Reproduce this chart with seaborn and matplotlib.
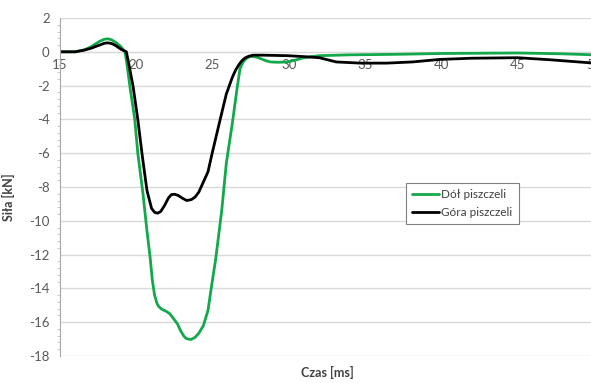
import matplotlib
matplotlib.use("Agg")
import matplotlib.pyplot as plt
from matplotlib.ticker import MultipleLocator
import pandas as pd
import seaborn as sns

# Dół piszczeli (lower tibia)
dol_t = [15, 16, 16.6, 17, 17.3, 17.6, 17.9, 18.15, 18.4, 18.7, 19.0, 19.26, 19.4,
         19.59, 19.9, 20.1, 20.44, 20.7, 20.9, 21.05, 21.2, 21.36, 21.5, 21.7, 21.95,
         22.2, 22.45, 22.7, 22.9, 23.1, 23.25, 23.4, 23.6, 23.85, 24.1, 24.4, 24.7,
         24.96, 25.2, 25.6, 25.9, 26.3, 26.6, 26.8, 27.0, 27.2, 27.4, 27.6, 27.9,
         28.2, 28.5, 28.8, 29.3, 29.9, 30.4, 30.9, 31.5, 32, 34, 37, 40, 45, 48, 50]
dol_f = [0, 0.0, 0.12, 0.28, 0.45, 0.62, 0.74, 0.77, 0.7, 0.53, 0.3, 0.0, -0.8,
         -2.1, -4.0, -6.0, -8.4, -10.6, -12.1, -13.5, -14.4, -14.9, -15.1, -15.25, -15.35,
         -15.5, -15.8, -16.1, -16.5, -16.8, -16.95, -17.0, -17.02, -16.9, -16.65, -16.2, -15.3,
         -13.7, -12.3, -9.4, -6.6, -4.2, -2.2, -1.0, -0.6, -0.4, -0.3, -0.27, -0.32,
         -0.42, -0.53, -0.6, -0.62, -0.6, -0.5, -0.37, -0.28, -0.23, -0.18, -0.15, -0.1, -0.07, -0.12, -0.18]

# Góra piszczeli (upper tibia)
gora_t = [15, 16, 16.6, 17, 17.3, 17.6, 17.9, 18.1, 18.35, 18.6, 19.0, 19.35, 19.55,
          19.8, 20.1, 20.4, 20.7, 21.0, 21.2, 21.4, 21.6, 21.85, 22.1, 22.3, 22.5,
          22.75, 23.0, 23.3, 23.6, 23.85, 24.1, 24.3, 24.5, 24.7, 25.0, 25.5, 25.9,
          26.3, 26.5, 26.7, 26.9, 27.1, 27.35, 27.65, 28.3, 29.9, 30.9, 32, 33.1,
          34.7, 36.4, 38.1, 39.9, 42, 45, 47.1, 50]
gora_f = [0, 0.0, 0.1, 0.2, 0.3, 0.4, 0.5, 0.53, 0.5, 0.4, 0.15, 0.0, -0.9,
          -2.1, -4.0, -6.2, -8.2, -9.26, -9.5, -9.55, -9.45, -9.1, -8.66, -8.45, -8.43,
          -8.5, -8.65, -8.8, -8.75, -8.6, -8.3, -7.9, -7.5, -7.1, -5.9, -4.0, -2.5,
          -1.5, -1.1, -0.8, -0.55, -0.38, -0.27, -0.2, -0.2, -0.23, -0.28, -0.35, -0.6,
          -0.67, -0.67, -0.6, -0.45, -0.38, -0.35, -0.47, -0.67]

df = pd.concat([
    pd.DataFrame({"Czas": dol_t, "Siła": dol_f, "seria": "Dół piszczeli"}),
    pd.DataFrame({"Czas": gora_t, "Siła": gora_f, "seria": "Góra piszczeli"}),
])

sns.set_style("white")
plt.rcParams["font.family"] = ["Lato", "DejaVu Sans"]
plt.rcParams["axes.unicode_minus"] = False

fig = plt.figure(figsize=(5.91, 3.83), dpi=100)
ax = fig.add_axes([0.1015, 0.0705, 0.9036, 0.8825])

sns.lineplot(data=df, x="Czas", y="Siła", hue="seria",
             palette={"Dół piszczeli": "#12A84B", "Góra piszczeli": "#000000"},
             linewidth=2.0, ax=ax, estimator=None)
for line in ax.get_lines():
    line.set_solid_joinstyle("round")

ax.set_xlim(15, 50)
ax.set_ylim(-18, 2)
ax.set_yticks(range(-18, 3, 2))
ax.yaxis.set_minor_locator(MultipleLocator(0.4))
ax.set_xticks(range(15, 51, 5))
ax.grid(axis="y", color="#d9d9d9", linewidth=1.0)
ax.grid(axis="x", visible=False)
ax.set_axisbelow(True)

for s in ["top", "right"]:
    ax.spines[s].set_visible(False)
ax.spines["bottom"].set_position(("data", 0))
ax.spines["bottom"].set_color("#bfbfbf")
ax.spines["left"].set_color("#a6a6a6")
ax.spines["bottom"].set_zorder(0.5)

ax.tick_params(axis="both", which="major", direction="out", length=4,
               color="#a6a6a6", labelsize=9.5, labelcolor="#595959")
ax.tick_params(axis="y", which="minor", direction="out", length=2.5,
               color="#bfbfbf", left=True)
ax.tick_params(axis="x", pad=1)

ax.set_xlabel("Czas [ms]", fontsize=9, fontweight="bold", color="#404040")
ax.set_ylabel("Siła [kN]", fontsize=9, fontweight="bold", color="#404040")
ax.xaxis.set_label_coords(0.5, -0.03)
ax.yaxis.set_label_coords(-0.085, 0.47)

leg = ax.legend(loc="upper left", bbox_to_anchor=(0.637, 0.53), fontsize=8.5,
                frameon=True, fancybox=False, framealpha=1, edgecolor="#808080",
                handlelength=2.3, handletextpad=0.2, borderpad=0.5, labelspacing=0.6)
leg.get_frame().set_linewidth(0.8)
for t in leg.get_texts():
    t.set_color("#404040")

fig.savefig("out.png", dpi=100)
